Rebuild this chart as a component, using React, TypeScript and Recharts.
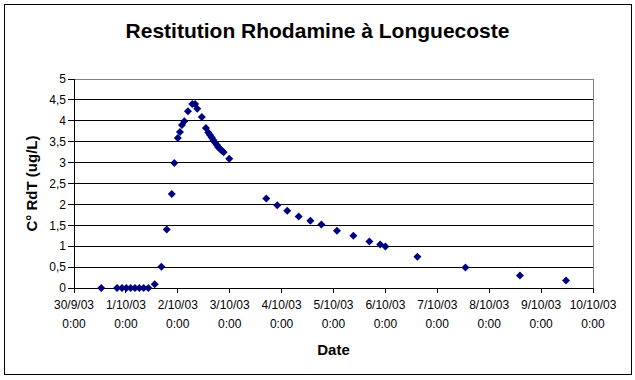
import { ScatterChart, Scatter, XAxis, YAxis, CartesianGrid, ReferenceLine, Label } from 'recharts';

// heures depuis le 30/9/03 0:00
const hours = [
    12.6, 19.9, 22.2, 24.2, 26.2, 28.2, 30.2, 32.2, 34.4, 37.3,
    40.4, 42.9, 45.2, 46.4, 48.0, 49.0, 49.9, 51.0, 52.7, 54.7,
    56.0, 57.0, 59.1, 61.0, 62.1, 62.9, 63.7, 64.4, 65.2, 66.0,
    66.7, 67.5, 68.3, 69.2, 71.8, 88.9, 94.0, 98.6, 103.9, 109.3,
    114.4, 121.6, 129.2, 136.6, 141.6, 144.0, 158.8, 181.0, 206.2, 227.5
];

const rdt = [
    0, 0, 0, 0, 0, 0, 0, 0, 0, 0.09,
    0.51, 1.4, 2.25, 2.99, 3.59, 3.73, 3.9, 3.99, 4.23, 4.4,
    4.4, 4.29, 4.09, 3.83, 3.72, 3.66, 3.6, 3.54, 3.48, 3.43,
    3.37, 3.33, 3.29, 3.25, 3.09, 2.14, 1.98, 1.85, 1.71, 1.61,
    1.52, 1.37, 1.25, 1.11, 1.04, 0.99, 0.75, 0.49, 0.3, 0.18
];

const dateLabels = ['30/9/03', '1/10/03', '2/10/03', '3/10/03', '4/10/03', '5/10/03',
    '6/10/03', '7/10/03', '8/10/03', '9/10/03', '10/10/03'];
const xTicks = dateLabels.map((_, i) => i * 24);
const yTicks = [0, 0.5, 1, 1.5, 2, 2.5, 3, 3.5, 4, 4.5, 5];

const data = hours.map((h, i) => ({ h, v: rdt[i] }));

const font = '"Liberation Sans", Arial, sans-serif';

function DateTick(props: any) {
    const { x, y, payload } = props;
    const label = dateLabels[Math.round(payload.value / 24)];
    return (
        <text x={x} y={y} textAnchor="middle" fontSize={12} fontFamily={font} fill="#000">
            <tspan x={x} dy={14}>{label}</tspan>
            <tspan x={x} dy={19}>0:00</tspan>
        </text>
    );
}

function Diamond(props: any) {
    const { cx, cy } = props;
    const r = 4;
    return <polygon points={`${cx},${cy - r} ${cx + r},${cy} ${cx},${cy + r} ${cx - r},${cy}`} fill="#000080" />;
}

export default function App() {
    return (
        <div style={{ position: 'absolute', left: 0, top: 0, width: 635, height: 380, background: '#fff' }}>
            <div style={{ position: 'absolute', left: 4, top: 4, width: 626, height: 369, border: '1px solid #000' }} />
            <div style={{
                position: 'absolute', left: 0, top: 19, width: 635, textAlign: 'center',
                fontFamily: font, fontWeight: 'bold', fontSize: 21, lineHeight: '24px'
            }}>
                Restitution Rhodamine à Longuecoste
            </div>
            <div style={{ position: 'absolute', left: 0, top: 0 }}>
                <ScatterChart width={635} height={380} margin={{ top: 79, right: 42, left: 0, bottom: 0 }}>
                    <CartesianGrid vertical={false} stroke="#000" strokeWidth={1} shapeRendering="crispEdges" />
                    <XAxis
                        type="number"
                        dataKey="h"
                        domain={[0, 240]}
                        ticks={xTicks}
                        interval={0}
                        height={92}
                        stroke="#000"
                        tickSize={5}
                        shapeRendering="crispEdges"
                        tick={<DateTick />}
                    >
                        <Label
                            value="Date"
                            content={(p: any) => (
                                <text x={p.viewBox.x + p.viewBox.width / 2} y={355} textAnchor="middle"
                                    fontFamily={font} fontWeight="bold" fontSize={15} fill="#000">Date</text>
                            )}
                        />
                    </XAxis>
                    <YAxis
                        type="number"
                        dataKey="v"
                        domain={[0, 5]}
                        ticks={yTicks}
                        interval={0}
                        width={74}
                        stroke="#000"
                        tickSize={6}
                        shapeRendering="crispEdges"
                        tick={{ fill: '#000', fontSize: 12, fontFamily: font }}
                        tickFormatter={(v: number) => String(v).replace('.', ',')}
                    >
                        <Label
                            value="C° RdT (ug/L)"
                            content={(p: any) => (
                                <text transform={`translate(37,${p.viewBox.y + p.viewBox.height / 2}) rotate(-90)`}
                                    textAnchor="middle" fontFamily={font} fontWeight="bold" fontSize={15} fill="#000">
                                    C° RdT (ug/L)
                                </text>
                            )}
                        />
                    </YAxis>
                    <ReferenceLine y={5} stroke="#808080" shapeRendering="crispEdges" />
                    <ReferenceLine x={240} stroke="#808080" shapeRendering="crispEdges" />
                    <Scatter data={data} shape={<Diamond />} isAnimationActive={false} />
                </ScatterChart>
            </div>
        </div>
    );
}
